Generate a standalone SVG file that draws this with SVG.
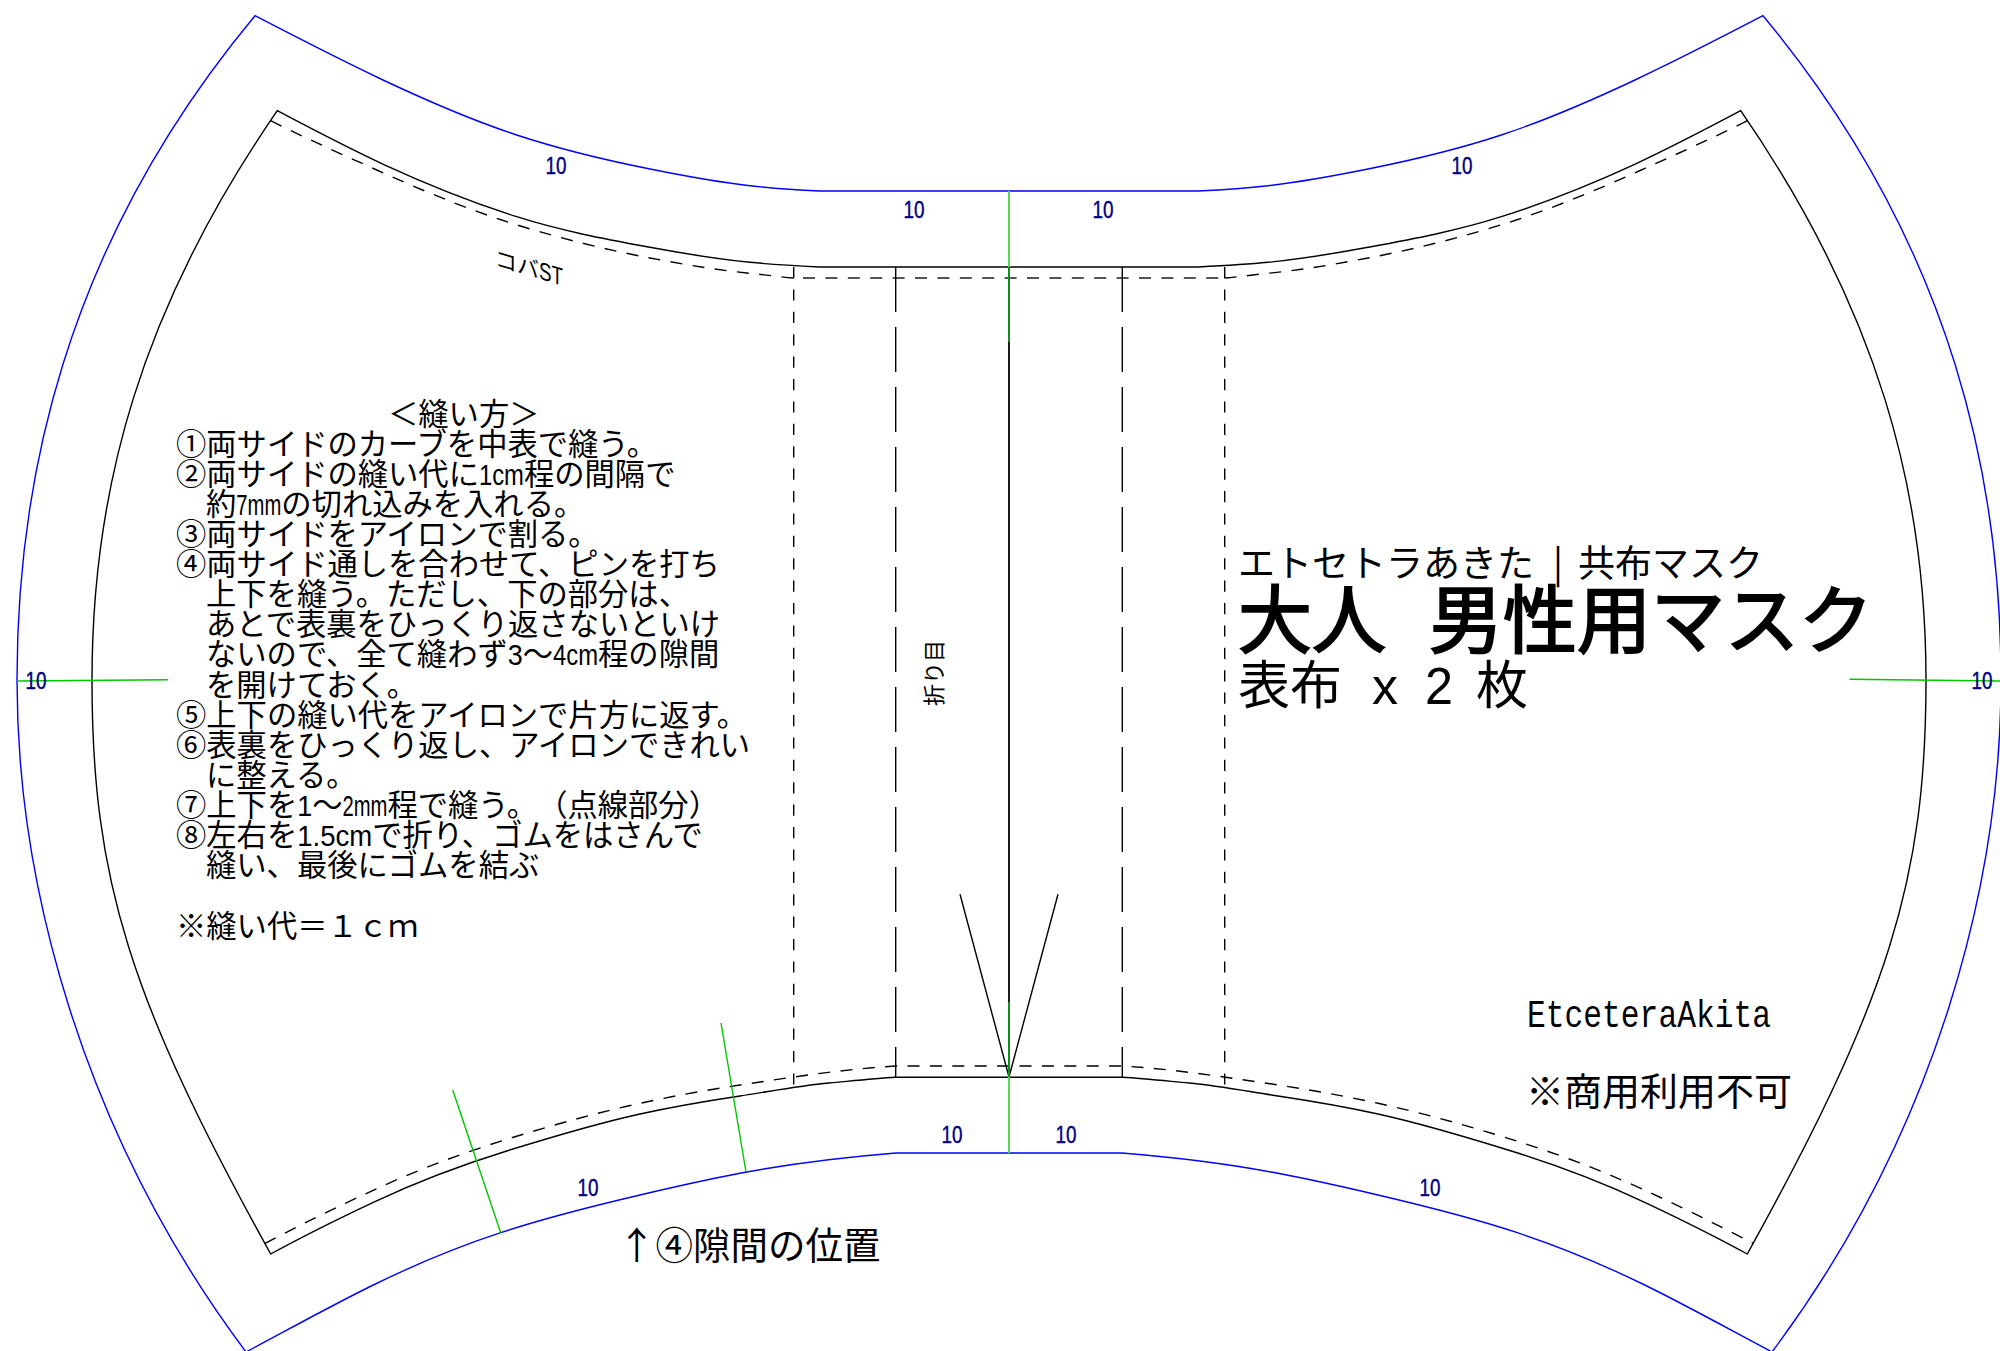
<svg xmlns="http://www.w3.org/2000/svg" width="2000" height="1351" viewBox="0 0 2000 1351">
<style>
text{font-family:"Noto Sans CJK JP","Noto Sans CJK SC",sans-serif;fill:#000;text-spacing-trim:space-all}
.blue{fill:none;stroke:#0000ff;stroke-width:1.4}
.cut{fill:none;stroke:#000;stroke-width:1.4}
.seam{fill:none;stroke:#000;stroke-width:1.4;stroke-dasharray:12 10.4}
.seamh{fill:none;stroke:#555;stroke-width:2;stroke-dasharray:12 10.4}
.short{stroke:#000;stroke-width:1.4;stroke-dasharray:11.2 11.2}
.long{stroke:#000;stroke-width:1.4;stroke-dasharray:45 15}
.green{stroke:#00c800;stroke-width:1.4;fill:none}
.dim{font-family:"Liberation Sans",sans-serif;font-size:24px;fill:#000080;stroke:#000080;stroke-width:.4}
.how{font-size:30.300px}
.hw{font-family:"Liberation Sans",sans-serif}
</style>
<g id="seam-allowance">
<path class="blue" d="M255 15.700C297.700 37.900 340.300 59.900 383 80C427.600 101 472.100 120.300 516.700 135C561.100 149.700 605.600 160.100 650 169C683.300 175.700 716.700 182 750 185.700C773.300 188.300 796.700 189.800 820 191H1198C1221.300 189.800 1244.700 188.300 1268 185.700C1301.300 182 1334.700 175.700 1368 169C1412.400 160.100 1456.900 149.700 1501.300 135C1545.900 120.300 1590.400 101 1635 80C1677.700 59.900 1720.300 37.900 1763 15.700C1958 250 2001 490 2001 680C2001 880 1938 1130 1772 1352C1729.600 1329.500 1687.100 1305.800 1644.700 1285C1602.200 1264.200 1559.800 1246.700 1517.300 1232.700C1471.600 1217.400 1424.400 1205.900 1378 1195C1344.700 1187.200 1311.300 1179.600 1278 1173.300C1226 1163.400 1174 1157.200 1122 1153H896C844 1157.200 792 1163.400 740 1173.300C706.700 1179.600 673.300 1187.200 640 1195C593.600 1205.900 546.400 1217.400 500.700 1232.700C458.200 1246.700 415.800 1264.200 373.300 1285C330.900 1305.800 288.400 1329.500 246 1352C80 1130 17 880 17 680C17 490 60 250 255 15.700Z"/>
</g>
<g id="cut-line">
<path class="cut" d="M277.300 110.700C312.600 129.400 348 148 383.300 164.300C427.800 184.800 472.200 202.500 516.700 216.700C561.100 230.900 605.600 239.100 650 247.300C683.300 253.500 716.700 259 750 262.300C773.300 264.600 796.700 265.800 820 267H1198C1221.300 265.800 1244.700 264.600 1268 262.300C1301.300 259 1334.700 253.500 1368 247.300C1412.400 239.100 1456.900 230.900 1501.300 216.700C1545.800 202.500 1590.200 184.800 1634.700 164.300C1670 148 1705.400 129.400 1740.700 110.700C1878 310 1926 490 1926 680C1926 880 1888 1000 1747.300 1254C1713.100 1235.200 1678.900 1218.400 1644.700 1202.300C1600.200 1181.400 1555.800 1164.800 1511.300 1151C1466.900 1137.200 1422.400 1123.800 1378 1114C1344.700 1106.700 1311.300 1101 1278 1096C1248.300 1091.500 1218.700 1085.700 1189 1083C1166.800 1081 1144.500 1078.600 1122.300 1077.300H895.700C873.500 1078.600 851.200 1081 829 1083C799.300 1085.700 769.700 1091.500 740 1096C706.700 1101 673.300 1106.700 640 1114C595.600 1123.800 551.100 1137.200 506.700 1151C462.200 1164.800 417.800 1181.400 373.300 1202.300C339.100 1218.400 304.900 1235.200 270.700 1254C130 1000 92 880 92 680C92 490 140 310 277.300 110.700Z"/>
</g>
<g id="stitch-lines">
<path class="seam" d="M270.700 120.700C306 138.400 341.400 154.100 376.700 170C418.400 188.800 460 206.200 501.700 220C549.100 235.600 600.600 248.600 650 258C683.300 264.300 716.700 270 750 273.300C764.600 274.800 779.100 276.800 793.700 278"/>
<path class="seamh" d="M803 278H1224.700"/>
<path class="seam" d="M1224.700 278C1238.900 276.800 1253.400 274.800 1268 273.300C1301.300 270 1334.700 264.300 1368 258C1417.400 248.600 1468.900 235.600 1516.300 220C1558 206.200 1599.600 188.800 1641.300 170C1676.600 154.100 1712 138.400 1747.300 120.700"/>
<path class="seam" d="M265 1243.300C304.400 1222.800 343.900 1203.400 383.300 1185.700C425.500 1166.700 467.800 1151.400 510 1138.300C553.300 1124.900 596.700 1112.800 640 1103.300C673.300 1096 706.700 1090 740 1085C791.900 1077.200 843.800 1069.100 895.700 1066H1122.300C1174.200 1069.100 1226.100 1077.200 1278 1085C1311.300 1090 1344.700 1096 1378 1103.300C1421.300 1112.800 1464.700 1124.900 1508 1138.300C1550.200 1151.400 1592.500 1166.700 1634.700 1185.700C1674.100 1203.400 1713.600 1222.800 1753 1243.300"/>
<line class="short" x1="793.700" y1="267" x2="793.700" y2="1086"/>
<line class="short" x1="1224.700" y1="267" x2="1224.700" y2="1086"/>
<line class="long" x1="895.700" y1="267" x2="895.700" y2="1077.300"/>
<line class="long" x1="1122.300" y1="267" x2="1122.300" y2="1077.300"/>
</g>
<g id="fold-and-dart">
<line x1="1009" y1="342" x2="1009" y2="1002" stroke="#1a1a1a" stroke-width="2"/>
<path class="cut" d="M960 894.300L1009 1077L1058 894.300"/>
<line x1="1009" y1="191" x2="1009" y2="267" stroke="#55d855" stroke-width="2"/>
<line x1="1009" y1="267" x2="1009" y2="342" stroke="#0f8f1f" stroke-width="2"/>
<line x1="1009" y1="1002" x2="1009" y2="1077" stroke="#0f8f1f" stroke-width="2"/>
<line x1="1009" y1="1077" x2="1009" y2="1153" stroke="#55d855" stroke-width="2"/>
</g>
<g id="green-marks">
<line class="green" x1="17" y1="681" x2="168" y2="679.700"/>
<line class="green" x1="1849.500" y1="679.300" x2="2000" y2="681"/>
<line class="green" x1="452.700" y1="1090" x2="500.700" y2="1232.700"/>
<line class="green" x1="721" y1="1023" x2="746" y2="1172"/>
</g>
<g id="dimensions" text-anchor="middle">
<text class="dim" x="556" y="173.500" textLength="21" lengthAdjust="spacingAndGlyphs">10</text>
<text class="dim" x="914" y="218" textLength="21" lengthAdjust="spacingAndGlyphs">10</text>
<text class="dim" x="1103" y="218" textLength="21" lengthAdjust="spacingAndGlyphs">10</text>
<text class="dim" x="1462" y="173.500" textLength="21" lengthAdjust="spacingAndGlyphs">10</text>
<text class="dim" x="952" y="1143" textLength="21" lengthAdjust="spacingAndGlyphs">10</text>
<text class="dim" x="1066" y="1143" textLength="21" lengthAdjust="spacingAndGlyphs">10</text>
<text class="dim" x="588" y="1196" textLength="21" lengthAdjust="spacingAndGlyphs">10</text>
<text class="dim" x="1430" y="1196" textLength="21" lengthAdjust="spacingAndGlyphs">10</text>
<text class="dim" x="36" y="689" textLength="21" lengthAdjust="spacingAndGlyphs">10</text>
<text class="dim" x="1982" y="689" textLength="21" lengthAdjust="spacingAndGlyphs">10</text>
</g>
<g id="labels">
<text font-size="22" transform="matrix(1 .29 0 1 495 266)">コバ<tspan class="hw" font-size="25" textLength="24" lengthAdjust="spacingAndGlyphs">ST</tspan></text>
<text font-size="22" transform="translate(942 706) rotate(-90)">折り目</text>
<text font-size="37.500" x="618" y="1259">↑④隙間の位置</text>
</g>
<g id="instructions" class="how">
<text class="how" x="388" y="425">＜縫い方＞</text>
<text class="how" x="176" y="455">①両サイドのカーブを中表で縫う。</text>
<text class="how" x="176" y="485">②両サイドの縫い代に<tspan class="hw" textLength="45" lengthAdjust="spacingAndGlyphs">1cm</tspan>程の間隔で</text>
<text class="how" x="206" y="515">約<tspan class="hw" textLength="45" lengthAdjust="spacingAndGlyphs">7mm</tspan>の切れ込みを入れる。</text>
<text class="how" x="176" y="545">③両サイドをアイロンで割る。</text>
<text class="how" x="176" y="575">④両サイド通しを合わせて、ピンを打ち</text>
<text class="how" x="206" y="605">上下を縫う。ただし、下の部分は、</text>
<text class="how" x="206" y="635">あとで表裏をひっくり返さないといけ</text>
<text class="how" x="206" y="665">ないので、全て縫わず<tspan class="hw" textLength="15" lengthAdjust="spacingAndGlyphs">3</tspan>～<tspan class="hw" textLength="45" lengthAdjust="spacingAndGlyphs">4cm</tspan>程の隙間</text>
<text class="how" x="206" y="696">を開けておく。</text>
<text class="how" x="176" y="726">⑤上下の縫い代をアイロンで片方に返す。</text>
<text class="how" x="176" y="756">⑥表裏をひっくり返し、アイロンできれい</text>
<text class="how" x="206" y="786">に整える。</text>
<text class="how" x="176" y="816">⑦上下を<tspan class="hw" textLength="15" lengthAdjust="spacingAndGlyphs">1</tspan>～<tspan class="hw" textLength="45" lengthAdjust="spacingAndGlyphs">2mm</tspan>程で縫う。（点線部分）</text>
<text class="how" x="176" y="846">⑧左右を<tspan class="hw" textLength="75" lengthAdjust="spacingAndGlyphs">1.5cm</tspan>で折り、ゴムをはさんで</text>
<text class="how" x="206" y="876">縫い、最後にゴムを結ぶ</text>
<text class="how" x="176" y="937">※縫い代＝１ｃｍ</text>
</g>
<g id="title">
<text font-size="37" y="577"><tspan x="1238">エトセトラあきた</tspan> <tspan x="1553">|</tspan> <tspan x="1578">共布マスク</tspan></text>
<text font-size="74" stroke="#000" stroke-width="2" y="647"><tspan x="1238">大人</tspan> <tspan x="1429">男性用マスク</tspan></text>
<text font-size="52" y="704"><tspan x="1238">表布</tspan> <tspan class="hw" x="1372" textLength="26" lengthAdjust="spacingAndGlyphs">x</tspan> <tspan class="hw" x="1425" textLength="28" lengthAdjust="spacingAndGlyphs">2</tspan> <tspan x="1476">枚</tspan></text>
<text font-size="39" x="1527" y="1027" textLength="244" lengthAdjust="spacingAndGlyphs" style="font-family:'Liberation Mono',monospace">EtceteraAkita</text>
<text font-size="38" x="1526" y="1105">※商用利用不可</text>
</g>
</svg>
